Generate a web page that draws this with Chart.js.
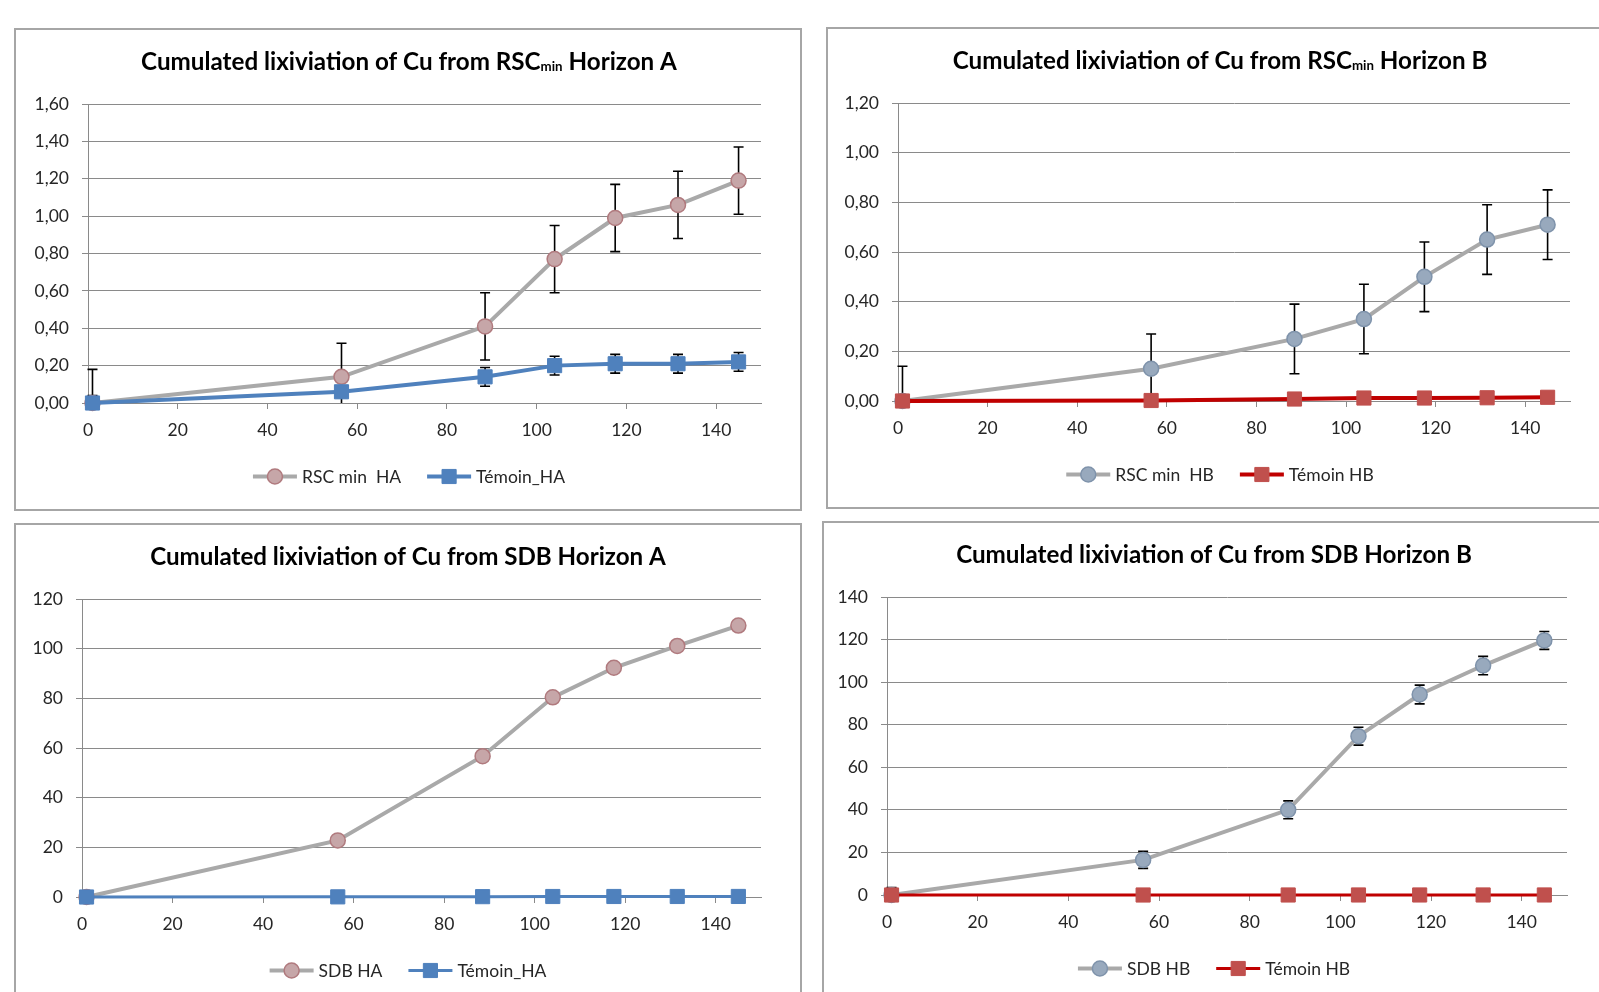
<!DOCTYPE html>
<html><head><meta charset="utf-8">
<script src="https://cdn.jsdelivr.net/npm/chart.js@4/dist/chart.umd.min.js"></script>
<style>
html,body{margin:0;padding:0;background:#fff;overflow:hidden;width:1599px;height:992px;position:relative}
canvas{position:absolute}
.frame{position:absolute;border:2px solid #a6a6a6;box-sizing:border-box;pointer-events:none}
</style></head><body>
<canvas id="c1" width="786" height="481" style="left:15px;top:29px"></canvas>
<div class="frame" style="left:14px;top:28px;width:788px;height:483px"></div>
<canvas id="c2" width="786" height="481" style="left:827px;top:28px"></canvas>
<div class="frame" style="left:826px;top:27px;width:800px;height:482px"></div>
<canvas id="c3" width="786" height="481" style="left:15px;top:524px"></canvas>
<div class="frame" style="left:14px;top:523px;width:788px;height:500px"></div>
<canvas id="c4" width="786" height="481" style="left:823px;top:522px"></canvas>
<div class="frame" style="left:822px;top:521px;width:800px;height:500px"></div>
<script>
// ---------- data ----------
const xDays = [1, 56.5, 88.5, 104, 117.5, 131.5, 145];
const xTickValues = [0, 20, 40, 60, 80, 100, 120, 140];
const xTickLabels = ['0', '20', '40', '60', '80', '100', '120', '140'];

const rscHA    = [0.00, 0.14, 0.41, 0.77, 0.99, 1.06, 1.19];
const rscHAErr = [0.18, 0.18, 0.18, 0.18, 0.18, 0.18, 0.18];
const temoinHA    = [0.00, 0.06, 0.14, 0.20, 0.21, 0.21, 0.22];
const temoinHAErr = [0.04, 0.03, 0.05, 0.05, 0.05, 0.05, 0.05];
const yTicksRscA  = [0, 0.2, 0.4, 0.6, 0.8, 1.0, 1.2, 1.4, 1.6];
const yLabelsRscA = ['0,00', '0,20', '0,40', '0,60', '0,80', '1,00', '1,20', '1,40', '1,60'];

const rscHB    = [0.00, 0.13, 0.25, 0.33, 0.50, 0.65, 0.71];
const rscHBErr = [0.14, 0.14, 0.14, 0.14, 0.14, 0.14, 0.14];
const temoinHB = [0.000, 0.002, 0.008, 0.012, 0.012, 0.013, 0.015];
const yTicksRscB  = [0, 0.2, 0.4, 0.6, 0.8, 1.0, 1.2];
const yLabelsRscB = ['0,00', '0,20', '0,40', '0,60', '0,80', '1,00', '1,20'];

const sdbHA       = [0, 22.8, 56.7, 80.4, 92.3, 101.1, 109.3];
const temoinSdbHA = [0.00, 0.06, 0.14, 0.20, 0.21, 0.21, 0.22];
const yTicksSdbA  = [0, 20, 40, 60, 80, 100, 120];
const yLabelsSdbA = ['0', '20', '40', '60', '80', '100', '120'];

const sdbHB       = [0, 16.5, 40.0, 74.6, 94.2, 107.8, 119.6];
const sdbHBErr    = [3.5, 4.0, 4.2, 4.2, 4.4, 4.3, 4.2];
const temoinSdbHB = [0.000, 0.002, 0.008, 0.012, 0.012, 0.013, 0.015];
const yTicksSdbB  = [0, 20, 40, 60, 80, 100, 120, 140];
const yLabelsSdbB = ['0', '20', '40', '60', '80', '100', '120', '140'];

// ---------- styles ----------
const FONT = 'Lato, "Open Sans", sans-serif';
const GRID = '#8a8a8a';
const TICK = '#262626';
const TICK_SIZE = 17.5;
const LEGEND_SIZE = 17.5;
const GRAYLINE = '#a9a9a9';
const ROSE = '#c6a6a8', ROSE_EDGE = '#b07a7e';
const SLATE = '#98a9bd', SLATE_EDGE = '#7f93ab';
const BLUE = '#4f81bd';
const RED_LINE = '#c00000', RED_MARK = '#c0504d';
const X_AXIS_H = 40;

Chart.defaults.font.family = FONT;

const pts = (xs, ys) => xs.map((x, i) => ({x: x, y: ys[i]}));

const errorBarPlugin = {
  id: 'errorBars',
  beforeDatasetsDraw(chart) {
    const ctx = chart.ctx, a = chart.chartArea, xs = chart.scales.x, ys = chart.scales.y;
    ctx.save();
    ctx.strokeStyle = '#000';
    ctx.lineWidth = 1.6;
    chart.data.datasets.forEach(ds => {
      if (!ds.errors) return;
      ds.data.forEach((p, i) => {
        const e = ds.errors[i];
        if (!e) return;
        const px = xs.getPixelForValue(p.x);
        let top = ys.getPixelForValue(p.y + e), bot = ys.getPixelForValue(p.y - e);
        const capT = top >= a.top - 0.5, capB = bot <= a.bottom + 0.5;
        top = Math.max(top, a.top); bot = Math.min(bot, a.bottom);
        ctx.beginPath();
        ctx.moveTo(px, top); ctx.lineTo(px, bot);
        if (capT) { ctx.moveTo(px - 5, top); ctx.lineTo(px + 5, top); }
        if (capB) { ctx.moveTo(px - 5, bot); ctx.lineTo(px + 5, bot); }
        ctx.stroke();
      });
    });
    ctx.restore();
  }
};

const titlePlugin = {
  id: 'xlTitle',
  afterDraw(chart, args, o) {
    const ctx = chart.ctx;
    ctx.save();
    const base = 20;
    const fontFor = (s, sub) => 'bold ' + (sub ? s * 0.55 : s) + 'px ' + FONT;
    let w = 0;
    o.parts.forEach(p => { ctx.font = fontFor(base, p.sub); w += ctx.measureText(p.text).width; });
    const size = base * o.width / w;
    let total = 0;
    o.parts.forEach(p => { ctx.font = fontFor(size, p.sub); total += ctx.measureText(p.text).width; });
    let x = o.cx - total / 2;
    const baseY = o.cy + size * 0.36;
    ctx.fillStyle = '#000';
    ctx.textBaseline = 'alphabetic';
    ctx.textAlign = 'left';
    o.parts.forEach(p => {
      ctx.font = fontFor(size, p.sub);
      ctx.fillText(p.text, x, baseY + (p.sub ? 1 : 0));
      x += ctx.measureText(p.text).width;
    });
    ctx.restore();
  }
};

const legendPlugin = {
  id: 'xlLegend',
  afterDraw(chart, args, o) {
    const ctx = chart.ctx;
    const items = chart.data.datasets;
    ctx.save();
    ctx.font = LEGEND_SIZE + 'px ' + FONT;
    const lineLen = 44, gap = 5, spacing = 26;
    const widths = items.map(d => lineLen + gap + ctx.measureText(d.label).width);
    const total = widths.reduce((s, v) => s + v, 0) + spacing * (items.length - 1);
    let x = o.cx - total / 2;
    const y = chart.chartArea.bottom + o.dy;
    items.forEach((d, i) => {
      ctx.strokeStyle = d.borderColor;
      ctx.lineWidth = d.borderWidth;
      ctx.beginPath(); ctx.moveTo(x, y); ctx.lineTo(x + lineLen, y); ctx.stroke();
      ctx.fillStyle = d.pointBackgroundColor;
      ctx.strokeStyle = d.pointBorderColor;
      ctx.lineWidth = d.pointBorderWidth;
      Chart.helpers.drawPoint(ctx, {pointStyle: d.pointStyle, radius: d.pointRadius, borderWidth: d.pointBorderWidth, rotation: 0}, x + lineLen / 2, y);
      ctx.fillStyle = TICK;
      ctx.textBaseline = 'middle';
      ctx.textAlign = 'left';
      ctx.fillText(d.label, x + lineLen + gap, y + 1);
      x += widths[i] + spacing;
    });
    ctx.restore();
  }
};

function makeChart(id, cfg) {
  const canvas = document.getElementById(id);
  const W = canvas.width, H = canvas.height;
  return new Chart(canvas, {
    type: 'line',
    data: {datasets: cfg.datasets},
    options: {
      responsive: false, animation: false, devicePixelRatio: 1,
      layout: {padding: {left: 0, top: cfg.area.top, right: W - cfg.area.right, bottom: H - cfg.area.bottom - X_AXIS_H}},
      elements: {line: {tension: 0}},
      plugins: {
        legend: {display: false}, tooltip: {enabled: false}, title: {display: false},
        xlTitle: {parts: cfg.title, width: cfg.titleWidth, cx: cfg.cx, cy: cfg.area.top - 43},
        xlLegend: {cx: cfg.cx, dy: 73.5}
      },
      scales: {
        x: {
          type: 'linear', min: 0, max: 150,
          afterBuildTicks: s => { s.ticks = xTickValues.map(v => ({value: v})); },
          afterFit: s => { s.height = X_AXIS_H; },
          grid: {drawOnChartArea: false, drawTicks: true, tickLength: 6, color: GRID, lineWidth: 1},
          border: {display: true, color: GRID, width: 1},
          ticks: {font: {size: TICK_SIZE}, color: TICK, padding: 11, maxRotation: 0, autoSkip: false,
                  callback: (v, i) => xTickLabels[i]}
        },
        y: {
          type: 'linear', min: 0, max: cfg.yTicks[cfg.yTicks.length - 1],
          afterBuildTicks: s => { s.ticks = cfg.yTicks.map(v => ({value: v})); },
          afterFit: s => { s.width = cfg.area.left; },
          grid: {color: GRID, lineWidth: 1, drawTicks: true, tickLength: 6},
          border: {display: true, color: GRID, width: 1},
          ticks: {font: {size: TICK_SIZE}, color: TICK, padding: 13, autoSkip: false,
                  callback: (v, i) => cfg.yLabels[i]}
        }
      }
    },
    plugins: [errorBarPlugin, titlePlugin, legendPlugin]
  });
}

function grayCircle(label, ys, errs, fill, edge) {
  return {label: label, data: pts(xDays, ys), errors: errs, borderColor: GRAYLINE, borderWidth: 4,
          pointStyle: 'circle', pointRadius: 7.5, pointBackgroundColor: fill, pointBorderColor: edge,
          pointBorderWidth: 1.5, order: 1, clip: false, fill: false};
}
function squareSeries(label, ys, errs, line, mark, lw) {
  return {label: label, data: pts(xDays, ys), errors: errs, borderColor: line, borderWidth: lw,
          pointStyle: 'rect', pointRadius: 10, pointBackgroundColor: mark, pointBorderColor: mark,
          pointBorderWidth: 1, order: 0, clip: false, fill: false};
}

makeChart('c1', {
  area: {left: 73, right: 746, top: 75, bottom: 374}, cx: 394,
  title: [{text: 'Cumulated lixiviation of Cu from RSC'}, {text: 'min', sub: true}, {text: ' Horizon A'}], titleWidth: 536,
  yTicks: yTicksRscA, yLabels: yLabelsRscA,
  datasets: [grayCircle('RSC min  HA', rscHA, rscHAErr, ROSE, ROSE_EDGE),
             squareSeries('Témoin_HA', temoinHA, temoinHAErr, BLUE, BLUE, 4)]
});
makeChart('c2', {
  area: {left: 71, right: 743, top: 75, bottom: 373}, cx: 393,
  title: [{text: 'Cumulated lixiviation of Cu from RSC'}, {text: 'min', sub: true}, {text: ' Horizon B'}], titleWidth: 535,
  yTicks: yTicksRscB, yLabels: yLabelsRscB,
  datasets: [grayCircle('RSC min  HB', rscHB, rscHBErr, SLATE, SLATE_EDGE),
             squareSeries('Témoin HB', temoinHB, null, RED_LINE, RED_MARK, 4)]
});
makeChart('c3', {
  area: {left: 67, right: 746, top: 75, bottom: 373}, cx: 393,
  title: [{text: 'Cumulated lixiviation of Cu from SDB Horizon A'}], titleWidth: 516,
  yTicks: yTicksSdbA, yLabels: yLabelsSdbA,
  datasets: [grayCircle('SDB HA', sdbHA, null, ROSE, ROSE_EDGE),
             squareSeries('Témoin_HA', temoinSdbHA, null, BLUE, BLUE, 3)]
});
makeChart('c4', {
  area: {left: 64, right: 744, top: 75, bottom: 373}, cx: 391,
  title: [{text: 'Cumulated lixiviation of Cu from SDB Horizon B'}], titleWidth: 516,
  yTicks: yTicksSdbB, yLabels: yLabelsSdbB,
  datasets: [grayCircle('SDB HB', sdbHB, sdbHBErr, SLATE, SLATE_EDGE),
             squareSeries('Témoin HB', temoinSdbHB, null, RED_LINE, RED_MARK, 3)]
});
</script>
</body></html>
